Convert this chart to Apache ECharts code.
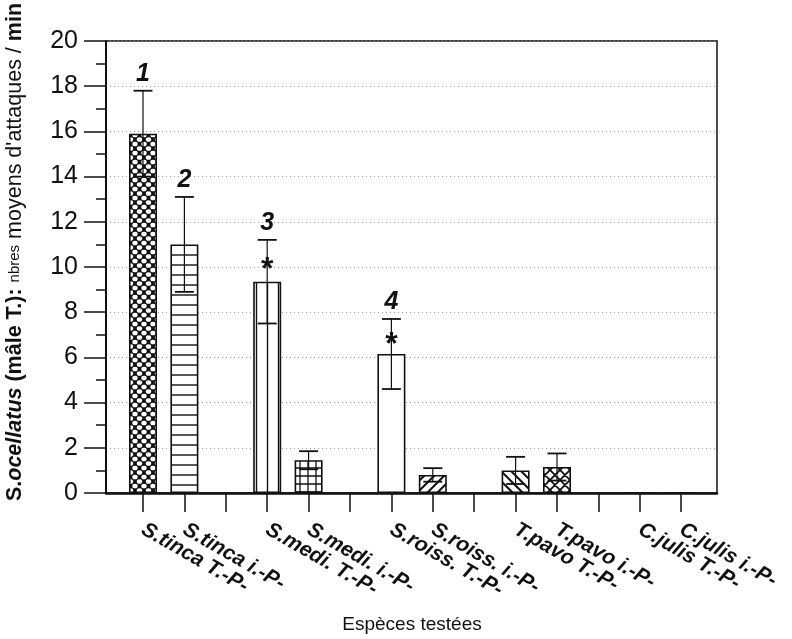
<!DOCTYPE html>
<html><head><meta charset="utf-8">
<script src="https://cdn.jsdelivr.net/npm/echarts@6/dist/echarts.min.js"></script>
<style>html,body{margin:0;padding:0;background:#fff}#c{width:792px;height:639px}</style>
</head><body><div id="c"></div>
<script>
// ---- data ----
const categories = ['S.tinca T.-P-','S.tinca i.-P-','','S.medi. T.-P-','S.medi. i.-P-','','S.roiss. T.-P-','S.roiss. i.-P-','','T.pavo T.-P-','T.pavo i.-P-','','C.julis T.-P-','C.julis i.-P-'];
const means  = [15.9, 11.0, null, 9.35, 1.45, null, 6.15, 0.8, null, 1.0, 1.15, null, 0, 0];
const errors = [1.9, 2.1, null, 1.85, 0.4, null, 1.55, 0.3, null, 0.6, 0.6, null, 0, 0];
const groupLabels = ['1','2','','3','','','4','','','','','','',''];
const starLabels  = ['','','','*','','','*','','','','','','',''];
const yMin = 0, yMax = 20, yStep = 2;
const yTitleRich = '{b|S.}{bi|ocellatus}{b| (mâle T.): }{s|nbres}{n| moyens d\'attaques / }{b|min}';
const xTitle = 'Espèces testées';

// ---- pattern styles ----
const FONT = "'Liberation Sans', Arial, Helvetica, sans-serif";
function mk(w, h, draw){
  const c = document.createElement('canvas'); c.width = w; c.height = h;
  const g = c.getContext('2d'); g.fillStyle = '#fff'; g.fillRect(0,0,w,h);
  g.strokeStyle = '#111'; g.fillStyle = '#111'; draw(g, w, h);
  return {image: c, repeat: 'repeat'};
}
const P = {
  dots: mk(9, 9, (g,w,h)=>{ g.fillRect(0,0,w,h); g.fillStyle='#fff';
    [[0,0],[w,0],[0,h],[w,h],[w/2,h/2]].forEach(([x,y])=>{g.beginPath();g.ellipse(x,y,2.7,2.3,0,0,Math.PI*2);g.fill();}); }),
  hlines: mk(10, 10, (g)=>{ g.lineWidth=1.4; g.beginPath(); g.moveTo(0,5); g.lineTo(10,5); g.stroke(); }),
  vlines: mk(11, 11, (g)=>{ g.lineWidth=1.4; g.beginPath(); g.moveTo(3.5,0); g.lineTo(3.5,11); g.stroke(); }),
  grid: mk(8, 8, (g)=>{ g.lineWidth=1.3; g.beginPath(); g.moveTo(0,4); g.lineTo(8,4); g.moveTo(4,0); g.lineTo(4,8); g.stroke(); }),
  white: '#ffffff',
  diagF: mk(10, 10, (g)=>{ g.lineWidth=2; g.beginPath(); g.moveTo(-1,11); g.lineTo(11,-1); g.moveTo(-1,1); g.lineTo(1,-1); g.moveTo(9,11); g.lineTo(11,9); g.stroke(); }),
  diagB: mk(10, 10, (g)=>{ g.lineWidth=2; g.beginPath(); g.moveTo(-1,-1); g.lineTo(11,11); g.moveTo(9,-1); g.lineTo(11,1); g.moveTo(-1,9); g.lineTo(1,11); g.stroke(); }),
  cross: mk(10, 10, (g)=>{ g.lineWidth=1.8; g.beginPath(); g.moveTo(-1,-1); g.lineTo(11,11); g.moveTo(9,-1); g.lineTo(11,1); g.moveTo(-1,9); g.lineTo(1,11);
    g.moveTo(-1,11); g.lineTo(11,-1); g.moveTo(-1,1); g.lineTo(1,-1); g.moveTo(9,11); g.lineTo(11,9); g.stroke(); })
};
const barFills = [P.dots, P.hlines, null, P.vlines, P.grid, null, P.white, P.diagF, null, P.diagB, P.cross, null, P.white, P.white];

const chart = echarts.init(document.getElementById('c'), null, {renderer: 'canvas'});
const errData = [];
means.forEach((m, i) => { if (m != null && errors[i] > 0) errData.push([i, m, errors[i]]); });

chart.setOption({
  animation: false,
  backgroundColor: '#fff',
  grid: [
    {left: 106, right: 75, top: 41, bottom: 146, show: true, borderColor: '#111', borderWidth: 1.5, backgroundColor: 'transparent'},
    {left: 122.3, right: 90.1, top: 41, bottom: 146}
  ],
  xAxis: [
    {type: 'value', gridIndex: 0, min: 0, max: 1, axisLine: {show: true, lineStyle: {color: '#111', width: 2.5}},
     axisTick: {show: false}, axisLabel: {show: false}, splitLine: {show: false}},
    {type: 'category', gridIndex: 1, data: categories, boundaryGap: true,
     axisLine: {show: false}, axisTick: {show: true, alignWithLabel: true, interval: 0, length: 19, inside: false, lineStyle: {color: '#111', width: 1.5}},
     axisLabel: {interval: 0, rotate: -30, margin: 35, fontSize: 21, fontWeight: 'bold', fontStyle: 'italic', color: '#111', fontFamily: FONT}}
  ],
  yAxis: [
    {type: 'value', gridIndex: 0, min: yMin, max: yMax, interval: yStep,
     axisLine: {show: true, lineStyle: {color: '#111', width: 2}},
     axisTick: {show: true, length: 22, lineStyle: {color: '#111', width: 1.5}},
     minorTick: {show: true, splitNumber: 2, length: 10, lineStyle: {color: '#111', width: 1.5}},
     axisLabel: {fontSize: 25, color: '#111', margin: 28, fontFamily: FONT},
     splitLine: {show: true, lineStyle: {color: '#9a9a9a', type: [1, 3], width: 1}}},
    {type: 'value', gridIndex: 1, min: yMin, max: yMax, interval: yStep, show: false}
  ],
  graphic: [
    {type: 'text', x: 15, y: 252, rotation: Math.PI / 2,
     style: {text: yTitleRich, textAlign: 'center', textVerticalAlign: 'middle', fill: '#111',
       rich: {
         b:  {fontSize: 21.5, fontWeight: 'bold', fontFamily: FONT, fill: '#111'},
         bi: {fontSize: 21.5, fontWeight: 'bold', fontStyle: 'italic', fontFamily: FONT, fill: '#111'},
         s:  {fontSize: 15, fontFamily: FONT, fill: '#111'},
         n:  {fontSize: 21.5, fontFamily: FONT, fill: '#111'}
       }}},
    {type: 'text', x: 412, y: 625, style: {text: xTitle, textAlign: 'center', textVerticalAlign: 'middle', fontSize: 19, fontFamily: FONT, fill: '#111'}}
  ],
  series: [
    {type: 'bar', xAxisIndex: 1, yAxisIndex: 1, barWidth: 28, z: 3,
     data: means.map((v, i) => v == null ? '-' : {value: v, itemStyle: {color: barFills[i]}}),
     itemStyle: {borderColor: '#111', borderWidth: 1.6}},
    {type: 'custom', xAxisIndex: 1, yAxisIndex: 1, z: 5, data: errData,
     renderItem: function (params, api) {
       const i = api.value(0), m = api.value(1), e = api.value(2);
       const top = api.coord([i, m + e]), bot = api.coord([i, m - e]), mid = api.coord([i, m]);
       const x = top[0], cap = 9.5;
       const ch = [
         {type: 'line', shape: {x1: x, y1: top[1], x2: x, y2: bot[1]}, style: {stroke: '#111', lineWidth: 1.2}},
         {type: 'line', shape: {x1: x - cap, y1: top[1], x2: x + cap, y2: top[1]}, style: {stroke: '#111', lineWidth: 1.8}},
         {type: 'line', shape: {x1: x - cap, y1: bot[1], x2: x + cap, y2: bot[1]}, style: {stroke: '#111', lineWidth: 1.8}}
       ];
       if (groupLabels[i]) ch.push({type: 'text', x: x, y: top[1] - 4,
         style: {text: groupLabels[i], textAlign: 'center', textVerticalAlign: 'bottom', fontSize: 25, fontWeight: 'bold', fontStyle: 'italic', fontFamily: FONT, fill: '#111'}});
       if (starLabels[i]) ch.push({type: 'text', x: x, y: (top[1] + mid[1]) / 2 + 9,
         style: {text: starLabels[i], textAlign: 'center', textVerticalAlign: 'middle', fontSize: 32, fontWeight: 'bold', fontFamily: FONT, fill: '#111'}});
       return {type: 'group', children: ch};
     }}
  ]
});
</script></body></html>
